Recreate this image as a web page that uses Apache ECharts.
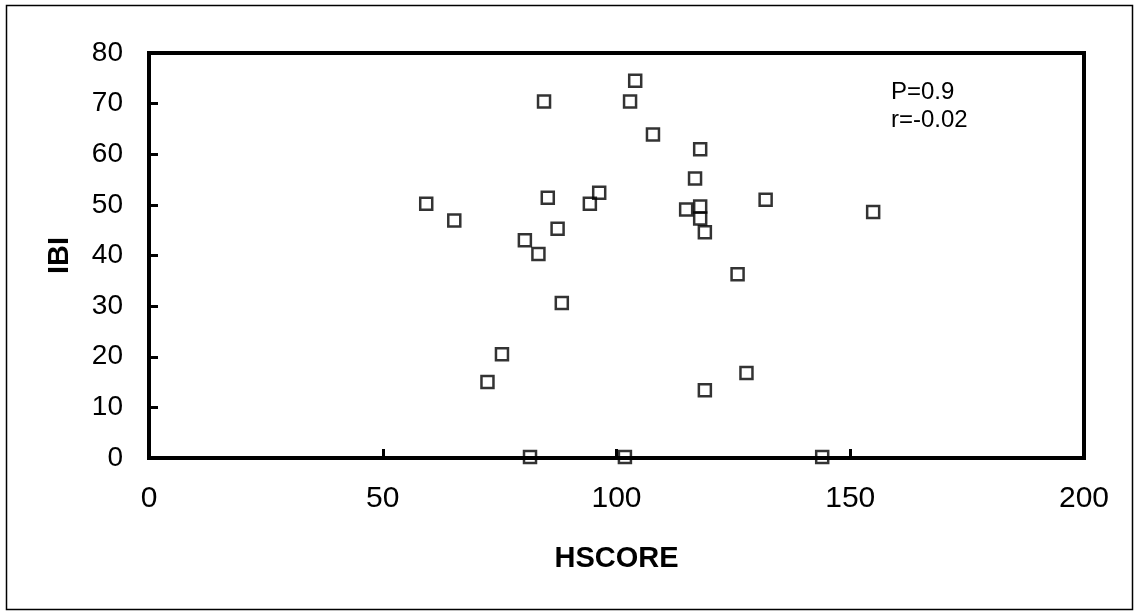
<!DOCTYPE html>
<html>
<head>
<meta charset="utf-8">
<script src="https://cdn.jsdelivr.net/npm/echarts@6/dist/echarts.min.js"></script>
<style>
  html, body { margin: 0; padding: 0; background: #fff; }
  #chart { width: 1135px; height: 613px; }
</style>
</head>
<body>
<div id="chart"></div>
<script>
// HSCORE (x) and IBI (y) values
const hscore = [59.3, 65.3, 72.4, 75.5, 80.4, 81.5, 83.3, 84.5, 85.3, 87.4, 88.3, 94.3, 96.3, 101.8, 102.9, 104.0, 107.8, 114.9, 116.8, 117.9, 117.9, 117.9, 118.9, 118.9, 125.9, 127.8, 131.9, 144.0, 154.9];
const ibi    = [50.2, 46.9, 15.0, 20.5, 43.0, 0.2, 40.3, 70.4, 51.4, 45.3, 30.6, 50.2, 52.4, 0.2, 70.4, 74.5, 63.9, 49.1, 55.2, 61.0, 49.7, 47.3, 44.6, 13.4, 36.3, 16.8, 51.0, 0.2, 48.6];
const xTicks = [0, 50, 100, 150, 200];
const yTicks = [0, 10, 20, 30, 40, 50, 60, 70, 80];
const annotation = ['P=0.9', 'r=-0.02'];

const points = hscore.map((x, i) => [x, ibi[i]]);
const FONT = '"Liberation Sans", Arial, sans-serif';

const chart = echarts.init(document.getElementById('chart'), null, { renderer: 'canvas' });
chart.setOption({
  animation: false,
  backgroundColor: '#fff',
  grid: {
    left: 149, top: 53, width: 935, height: 405,
    show: true, borderColor: '#000', borderWidth: 4, backgroundColor: 'transparent'
  },
  xAxis: {
    type: 'value',
    min: xTicks[0], max: xTicks[xTicks.length - 1], interval: 50,
    name: 'HSCORE', nameLocation: 'middle', nameGap: 86,
    nameTextStyle: { fontFamily: FONT, fontSize: 29, fontWeight: 'bold', color: '#000' },
    axisLine: { show: true, lineStyle: { color: '#000', width: 4 } },
    axisTick: { show: true, inside: true, length: 9, lineStyle: { color: '#000', width: 3 } },
    axisLabel: { fontFamily: FONT, fontSize: 30, color: '#000', margin: 26 },
    splitLine: { show: false }
  },
  yAxis: {
    type: 'value',
    min: yTicks[0], max: yTicks[yTicks.length - 1], interval: 10,
    name: 'IBI', nameLocation: 'middle', nameGap: 75, nameRotate: 90,
    nameTextStyle: { fontFamily: FONT, fontSize: 29, fontWeight: 'bold', color: '#000' },
    axisLine: { show: true, lineStyle: { color: '#000', width: 4 } },
    axisTick: { show: true, inside: true, length: 9, lineStyle: { color: '#000', width: 3 } },
    axisLabel: { fontFamily: FONT, fontSize: 28, color: '#000', margin: 26 },
    splitLine: { show: false }
  },
  graphic: [
    {
      type: 'rect', silent: true, z: -1,
      shape: { x: 6.5, y: 5.5, width: 1126, height: 604 },
      style: { fill: 'none', stroke: '#000', lineWidth: 1.5 }
    },
    {
      type: 'text', left: 891, top: 78, silent: true,
      style: { text: annotation.join('\n'), font: '24px ' + FONT, fill: '#000', lineHeight: 28 }
    }
  ],
  series: [{
    type: 'scatter',
    data: points,
    symbol: 'rect',
    symbolSize: 12,
    itemStyle: { color: 'transparent', borderColor: '#000', borderWidth: 2.5 },
    z: 3
  }]
});
</script>
</body>
</html>
